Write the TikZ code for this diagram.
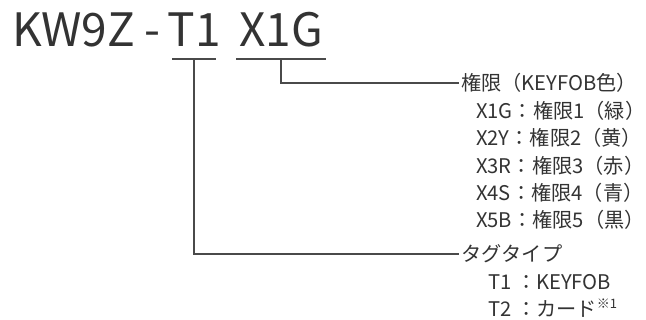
\documentclass[tikz,border=0pt]{standalone}
\usepackage{fontspec}
\setmainfont{Noto Sans CJK JP}
\usetikzlibrary{calc}
\definecolor{inkgray}{HTML}{333333}
\definecolor{linegray}{HTML}{4A4A4A}
\tikzset{
  lbl/.style={anchor=west,inner sep=0pt,text=inkgray,font=\fontsize{20.2}{21}\selectfont},
  big/.style={anchor=base,inner sep=0pt,text=inkgray,font=\fontsize{46}{46}\selectfont},
  lead/.style={draw=linegray,line width=1.3pt}
}
\begin{document}
\begin{tikzpicture}[x=1pt,y=-1pt]
        \useasboundingbox (0,0) rectangle (646,320);
        % model number
        \node[big,anchor=base west] (kw) at (12,47) {KW9Z};
        \node[big] (dash) at (152,47) {-};
        \node[big] (t1) at (194,47) {T1};
        \node[big] (x1g) at (281,47) {X1G};
        \coordinate (u1l) at (172,59);
        \coordinate (u1r) at (216,59);
        \coordinate (u1m) at (194,59);
        \coordinate (u2l) at (236,59);
        \coordinate (u2r) at (326,59);
        \coordinate (u2m) at (281,59);
        \draw[lead] (u1l) -- (u1r);
        \draw[lead] (u2l) -- (u2r);
        % labels
        \node[lbl] (perm) at (461,83) {権限（KEYFOB色）};
        \node[lbl] (p1) at (476,111) {X1G：権限1（緑）};
        \node[lbl] (p2) at (476,138) {X2Y：権限2（黄）};
        \node[lbl] (p3) at (476,166) {X3R：権限3（赤）};
        \node[lbl] (p4) at (476,193) {X4S：権限4（青）};
        \node[lbl] (p5) at (476,220) {X5B：権限5（黒）};
        \node[lbl] (tag) at (461,254) {タグタイプ};
        \node[lbl] (tg1) at (488,282) {T1 ：KEYFOB};
        \node[lbl] (tg2) at (488,308) {T2 ：カード\raisebox{0.7ex}{\fontsize{13}{13}\selectfont ※1}};
        \draw[lead] (u2m) |- ([xshift=-2pt]perm.west);
        \draw[lead] (u1m) |- ([xshift=-2pt]tag.west);
\end{tikzpicture}
\end{document}
